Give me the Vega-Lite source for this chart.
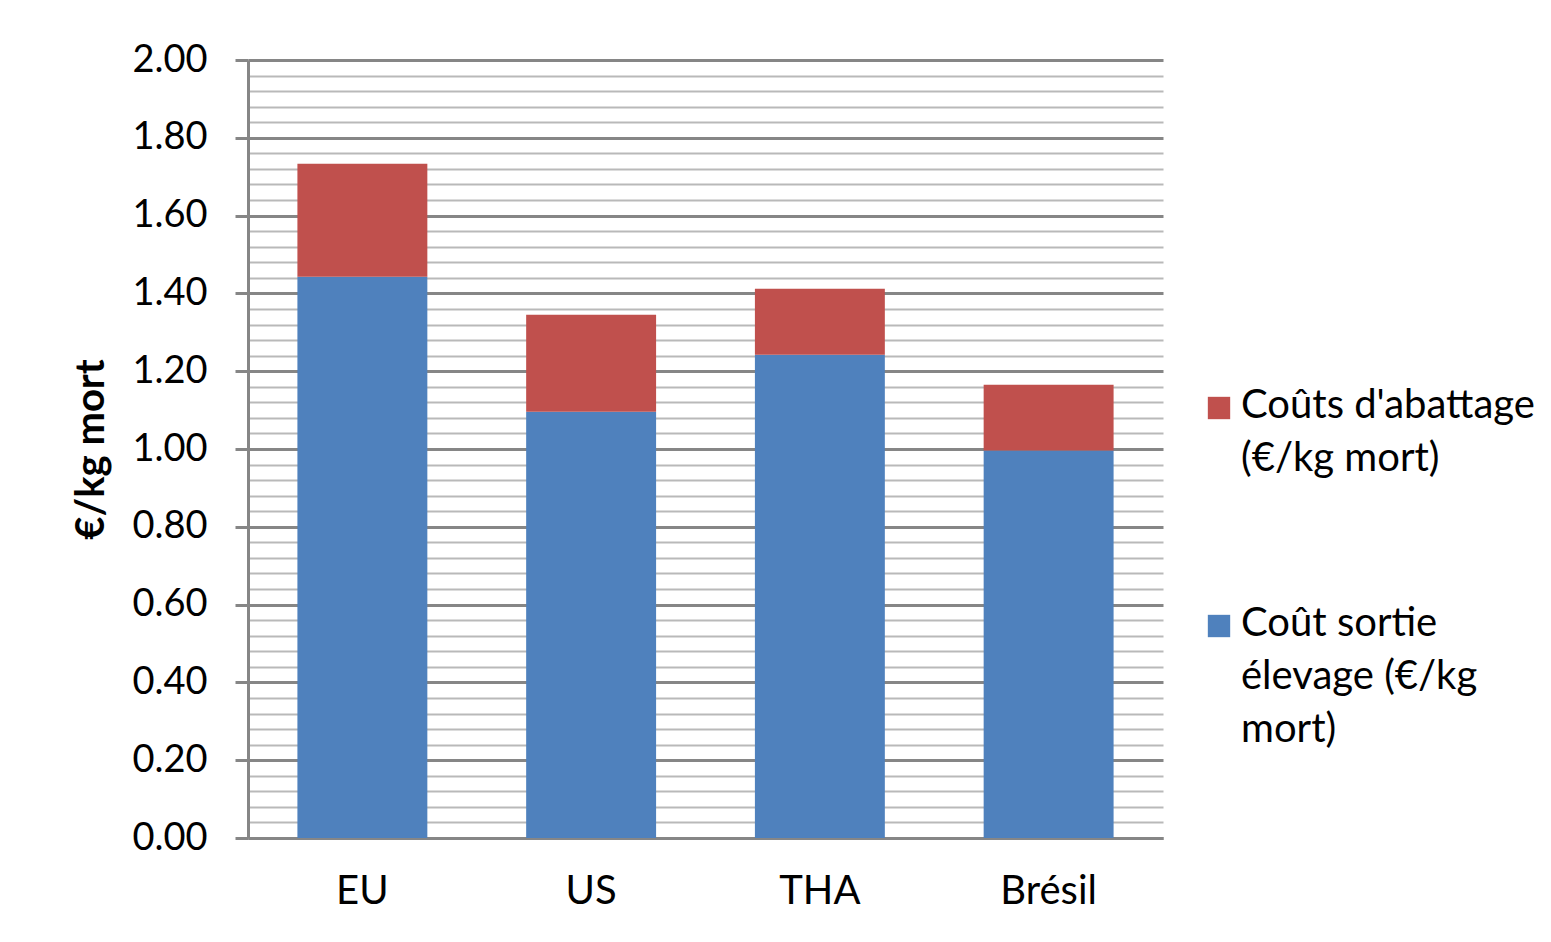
{
  "$schema": "https://vega.github.io/schema/vega-lite/v6.json",
  "width": 915,
  "height": 778,
  "autosize": {"type": "none"},
  "padding": {"left": 248, "top": 60, "right": 388, "bottom": 104},
  "background": "white",
  "config": {
    "view": {"stroke": null},
    "font": "Lato",
    "style": {"guide-label": {"lineHeight": 53}}
  },
  "data": {
    "values": [
      {"pays": "EU", "serie": "Coût sortie|élevage (€/kg|mort)", "rang": 1, "valeur": 1.443},
      {"pays": "EU", "serie": "Coûts d'abattage|(€/kg mort)", "rang": 2, "valeur": 0.290},
      {"pays": "US", "serie": "Coût sortie|élevage (€/kg|mort)", "rang": 1, "valeur": 1.096},
      {"pays": "US", "serie": "Coûts d'abattage|(€/kg mort)", "rang": 2, "valeur": 0.249},
      {"pays": "THA", "serie": "Coût sortie|élevage (€/kg|mort)", "rang": 1, "valeur": 1.242},
      {"pays": "THA", "serie": "Coûts d'abattage|(€/kg mort)", "rang": 2, "valeur": 0.170},
      {"pays": "Brésil", "serie": "Coût sortie|élevage (€/kg|mort)", "rang": 1, "valeur": 0.996},
      {"pays": "Brésil", "serie": "Coûts d'abattage|(€/kg mort)", "rang": 2, "valeur": 0.169}
    ]
  },
  "mark": {"type": "bar"},
  "encoding": {
    "x": {
      "field": "pays",
      "type": "nominal",
      "sort": ["EU", "US", "THA", "Brésil"],
      "scale": {"paddingInner": 0.432, "paddingOuter": 0.216},
      "axis": {
        "title": null,
        "labelAngle": 0,
        "labelFontSize": 40,
        "labelColor": "#000000",
        "labelPadding": 33,
        "ticks": false,
        "domainColor": "#868686",
        "domainWidth": 3,
        "grid": false
      }
    },
    "y": {
      "field": "valeur",
      "type": "quantitative",
      "stack": "zero",
      "scale": {"domain": [0, 2], "nice": false},
      "axis": {
        "title": "€/kg mort",
        "titleFontSize": 40,
        "titleFontWeight": "bold",
        "titleColor": "#000000",
        "titlePadding": 20,
        "values": [0,0.04,0.08,0.12,0.16,0.2,0.24,0.28,0.32,0.36,0.4,0.44,0.48,0.52,0.56,0.6,0.64,0.68,0.72,0.76,0.8,0.84,0.88,0.92,0.96,1,1.04,1.08,1.12,1.16,1.2,1.24,1.28,1.32,1.36,1.4,1.44,1.48,1.52,1.56,1.6,1.64,1.68,1.72,1.76,1.8,1.84,1.88,1.92,1.96,2],
        "labelExpr": "abs(round(datum.value*5) - datum.value*5) < 0.01 ? format(datum.value, '.2f') : ''",
        "labelFontSize": 38,
        "labelColor": "#000000",
        "labelPadding": 28,
        "tickSize": 13,
        "tickWidth": 3,
        "tickColor": {"condition": {"test": "abs(round(datum.value*5) - datum.value*5) < 0.01", "value": "#868686"}, "value": "transparent"},
        "domainColor": "#868686",
        "domainWidth": 3,
        "grid": true,
        "gridColor": {"condition": {"test": "abs(round(datum.value*5) - datum.value*5) < 0.01", "value": "#868686"}, "value": "#b9b9b9"},
        "gridWidth": {"condition": {"test": "abs(round(datum.value*5) - datum.value*5) < 0.01", "value": 3}, "value": 2}
      }
    },
    "color": {
      "field": "serie",
      "type": "nominal",
      "scale": {
        "domain": ["Coûts d'abattage|(€/kg mort)", "Coût sortie|élevage (€/kg|mort)"],
        "range": ["#C0504D", "#4F81BD"]
      },
      "legend": {
        "title": null,
        "orient": "none",
        "legendX": 951,
        "legendY": 328,
        "symbolType": "square",
        "symbolSize": 500,
        "symbolStrokeWidth": 0,
        "symbolOpacity": 1,
        "labelFontSize": 40,
        "labelColor": "#000000",
        "labelBaseline": "top",
        "labelOffset": 2,
        "labelLimit": 400,
        "rowPadding": 125,
        "labelExpr": "split(datum.label, '|')",
        "encode": {"labels": {"update": {"dy": {"value": -22}}}}
      }
    },
    "order": {"field": "rang", "type": "quantitative"}
  }
}
